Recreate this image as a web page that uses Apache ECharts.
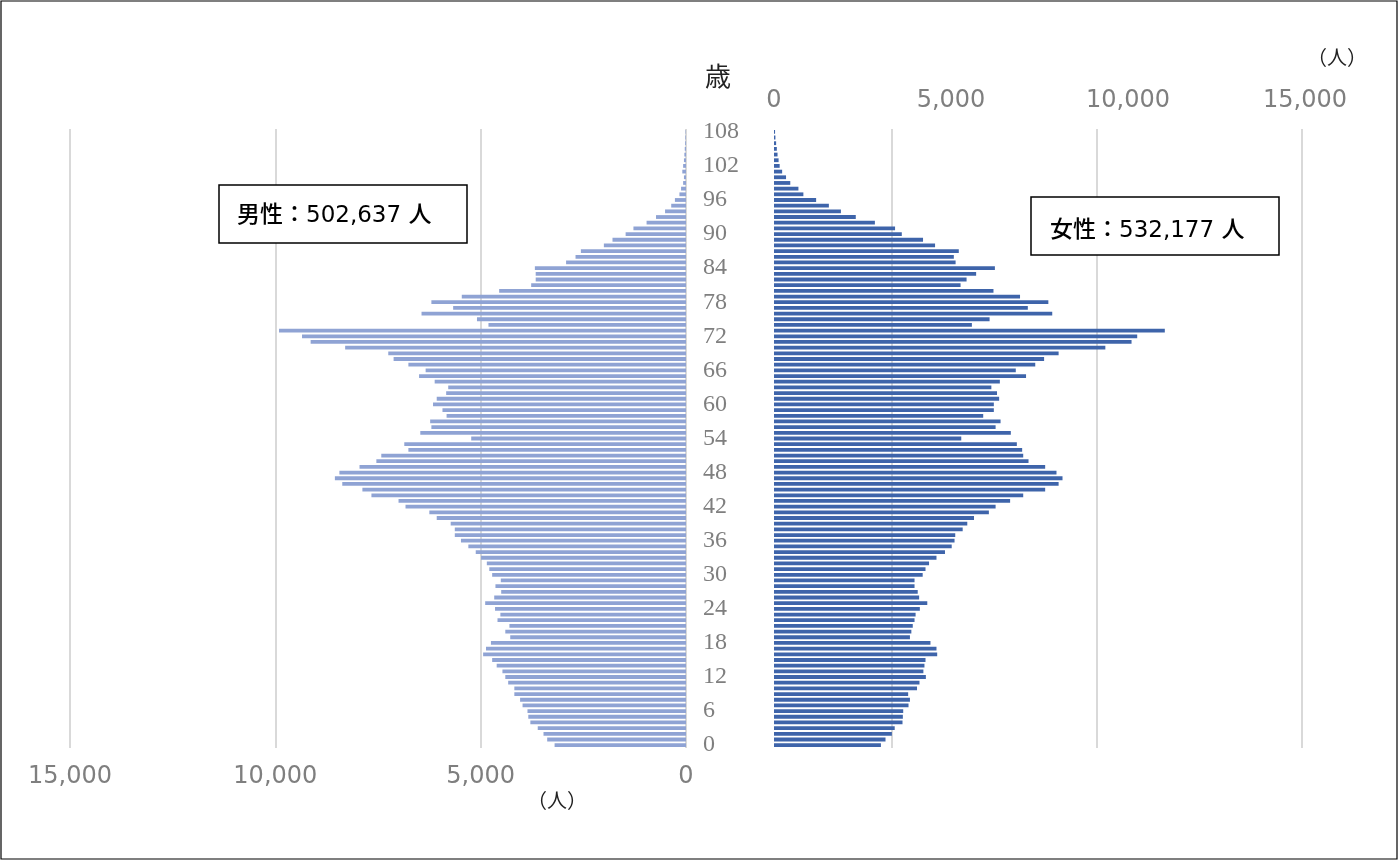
<!DOCTYPE html>
<html>
<head>
<meta charset="utf-8">
<title>人口ピラミッド</title>
<script src="https://cdn.jsdelivr.net/npm/echarts@6/dist/echarts.min.js"></script>
<style>
  html, body { margin: 0; padding: 0; background: #fff; }
  #chart { width: 1399px; height: 861px; }
</style>
</head>
<body>
<div id="chart"></div>
<script>
// Ages 0..108 (bottom to top)
const ages = [];
for (let a = 0; a <= 108; a++) ages.push(String(a));

// Male population by single year of age, 0..108
const male = [
  3200, 3380, 3470, 3610, 3790, 3840, 3860, 3980, 4040, 4180,
  4180, 4330, 4400, 4470, 4610, 4720, 4940, 4870, 4750, 4280,
  4400, 4300, 4590, 4520, 4650, 4890, 4670, 4500, 4640, 4510,
  4720, 4790, 4850, 4990, 5120, 5300, 5480, 5630, 5630, 5730,
  6070, 6250, 6830, 7000, 7660, 7880, 8370, 8550, 8440, 7950,
  7540, 7420, 6760, 6860, 5230, 6470, 6200, 6230, 5830, 5930,
  6160, 6070, 5840, 5790, 6120, 6500, 6340, 6760, 7120, 7250,
  8300, 9140, 9350, 9910, 4810, 5090, 6440, 5670, 6200, 5460,
  4550, 3770, 3660, 3660, 3680, 2920, 2690, 2560, 2000, 1790,
  1470, 1280, 960, 730, 510, 360, 270, 160, 120, 70,
  50, 90, 70, 50, 40, 30, 20, 15, 10
];

// Female population by single year of age, 0..108
const female = [
  3020, 3150, 3330, 3410, 3630, 3640, 3650, 3800, 3840, 3790,
  4040, 4110, 4290, 4220, 4250, 4280, 4610, 4590, 4420, 3840,
  3880, 3920, 3970, 4000, 4120, 4330, 4100, 4060, 3970, 3970,
  4200, 4280, 4380, 4590, 4830, 5020, 5100, 5120, 5330, 5460,
  5650, 6070, 6260, 6670, 7040, 7660, 8040, 8150, 7980, 7660,
  7190, 7040, 7010, 6860, 5290, 6690, 6260, 6400, 5910, 6210,
  6210, 6360, 6300, 6140, 6380, 7120, 6830, 7380, 7630, 8040,
  9360, 10100, 10260, 11040, 5590, 6090, 7860, 7170, 7750, 6950,
  6200, 5270, 5440, 5710, 6240, 5130, 5080, 5220, 4550, 4210,
  3610, 3420, 2850, 2310, 1890, 1550, 1190, 830, 690, 460,
  340, 230, 160, 130, 100, 80, 60, 40, 30
];

const maleTotalLabel = '男性：502,637 人';
const femaleTotalLabel = '女性：532,177 人';
const unitLabel = '（人）';
const ageUnitLabel = '歳';

const fmt = v => Math.abs(v).toLocaleString('en-US');
const axisGray = '#7f7f7f';
const jpFont = '"Noto Sans CJK JP", "Noto Sans", sans-serif';
const numFont = '"DejaVu Sans", "Noto Sans CJK JP", sans-serif';

const chart = echarts.init(document.getElementById('chart'), null, { renderer: 'canvas' });

chart.setOption({
  animation: false,
  backgroundColor: '#fff',
  grid: [
    // male side: the full-width value axis also carries the vertical grid lines
    { left: 70, width: 1232, top: 129, height: 619 },
    // female side
    { left: 774, width: 531, top: 129, height: 619 }
  ],
  xAxis: [
    {
      gridIndex: 0, type: 'value', position: 'bottom',
      min: -15000, max: 15000, interval: 5000,
      axisLine: { show: false }, axisTick: { show: false },
      splitLine: { show: true, lineStyle: { color: '#d9d9d9', width: 2 } },
      axisLabel: {
        margin: 17, color: axisGray, fontSize: 24, fontFamily: numFont,
        formatter: v => (v <= 0 ? fmt(v) : '')
      }
    },
    {
      gridIndex: 1, type: 'value', position: 'top',
      min: 0, max: 15000, interval: 5000,
      axisLine: { show: false }, axisTick: { show: false },
      splitLine: { show: false },
      axisLabel: {
        margin: 16, color: axisGray, fontSize: 24, fontFamily: numFont,
        formatter: v => fmt(v)
      }
    }
  ],
  yAxis: [
    {
      gridIndex: 0, type: 'category', data: ages,
      axisLine: { show: false }, axisTick: { show: false }, axisLabel: { show: false },
      splitLine: { show: false }
    },
    {
      gridIndex: 1, type: 'category', data: ages, position: 'left',
      axisLine: { show: false }, axisTick: { show: false },
      splitLine: { show: false },
      axisLabel: {
        interval: (i) => i % 6 === 0,
        align: 'left', margin: 71,
        color: axisGray, fontSize: 24,
        fontFamily: '"Liberation Serif", "DejaVu Serif", serif'
      }
    }
  ],
  series: [
    {
      name: '男性', type: 'bar', xAxisIndex: 0, yAxisIndex: 0,
      data: male.map(v => -v),
      barWidth: 3.8,
      itemStyle: { color: '#8fa3d4' },
      silent: true
    },
    {
      name: '女性', type: 'bar', xAxisIndex: 1, yAxisIndex: 1,
      data: female,
      barWidth: 3.8,
      itemStyle: { color: '#3e64aa' },
      silent: true
    }
  ],
  graphic: [
    {
      type: 'rect', shape: { x: 1, y: 1, width: 1396, height: 858 },
      style: { fill: 'none', stroke: '#000', lineWidth: 1.2 }, z: 100
    },
    {
      type: 'rect', shape: { x: 219, y: 185, width: 248, height: 58 },
      style: { fill: '#fff', stroke: '#000', lineWidth: 1.5 }, z: 50
    },
    {
      type: 'text', left: 237, top: 205, z: 51,
      style: { text: maleTotalLabel, fill: '#000', font: '500 23px ' + numFont }
    },
    {
      type: 'rect', shape: { x: 1031, y: 197, width: 248, height: 58 },
      style: { fill: '#fff', stroke: '#000', lineWidth: 1.5 }, z: 50
    },
    {
      type: 'text', left: 1050, top: 220, z: 51,
      style: { text: femaleTotalLabel, fill: '#000', font: '500 23px ' + numFont }
    },
    {
      type: 'text', left: 705, top: 63, z: 51,
      style: { text: ageUnitLabel, fill: '#222', font: '26px ' + jpFont }
    },
    {
      type: 'text', left: 1307, top: 47, z: 51,
      style: { text: unitLabel, fill: '#222', font: '20px ' + jpFont }
    },
    {
      type: 'text', left: 527, top: 790, z: 51,
      style: { text: unitLabel, fill: '#222', font: '20px ' + jpFont }
    }
  ]
});
</script>
</body>
</html>
